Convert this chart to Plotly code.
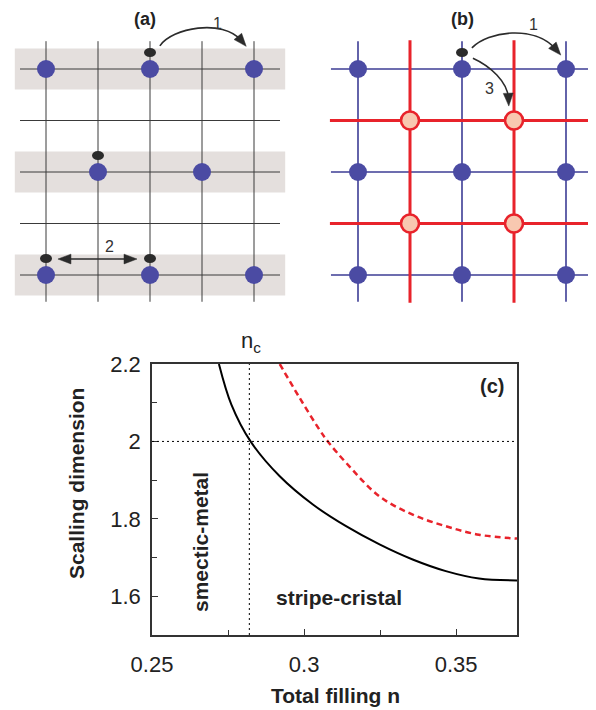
import plotly.graph_objects as go

# ---------------- data ----------------
# panel (c)
fill_black = [0.272, 0.2761, 0.2824, 0.292, 0.3029, 0.3138, 0.3248, 0.3357, 0.3466, 0.3575, 0.37]
scal_black = [2.2, 2.095, 2.0, 1.91, 1.837, 1.781, 1.734, 1.695, 1.665, 1.646, 1.641]
fill_red = [0.292, 0.2985, 0.305, 0.3078, 0.3138, 0.3248, 0.3357, 0.3466, 0.3575, 0.37]
scal_red = [2.2, 2.113, 2.031, 2.0, 1.945, 1.858, 1.811, 1.781, 1.759, 1.749]
n_c = 0.282
y_ref = 2.0
x_ticks = [0.25, 0.3, 0.35]
x_tick_labels = ["0.25", "0.3", "0.35"]
x_minor = [0.275, 0.325]
y_ticks = [1.6, 1.8, 2.0, 2.2]
y_tick_labels = ["1.6", "1.8", "2", "2.2"]
y_minor = [1.7, 1.9, 2.1]

# panel (a): lattice indices (column, row)
a_grid = [0, 1, 2, 3, 4]
a_stripe_rows = [0, 2, 4]
a_site_cols = [0, 2, 4, 1, 3, 0, 2, 4]
a_site_rows = [0, 0, 0, 2, 2, 4, 4, 4]
a_elec_cols = [2, 1, 0, 2]
a_elec_rows = [0, 2, 4, 4]

# panel (b)
b_blue = [0, 2, 4]
b_red = [1, 3]
b_elec_cols = [2]
b_elec_rows = [0]

# ---------------- styles / geometry ----------------
FONT = "Liberation Sans"
BLUE = "#4b4ba3"
BLUE_LINE = "#3d3d95"
RED = "#e8232b"
PEACH = "#f8c8b0"
DARK = "#2b2b2b"
GRID = "#3a3a3a"
BAND = "#e4dfdd"
EXT = 0.5

OFF = 8                      # page body margin
W, H = 596 - OFF, 710 - OFF
def px(x): return (x - OFF) / W
def py(y): return 1 - (y - OFF) / H

# lattice pixel mapping (page pixels): col -> X0 + SX*col, row -> Y0 + SY*row
A_X0, B_X0, SX = 46, 358, 52
Y0, SY = 69, 51.5

fig = go.Figure()
shapes = []
ann = []

def lines_trace(xs, ys, color, width, xa, ya):
    return go.Scatter(x=xs, y=ys, mode="lines", line=dict(color=color, width=width),
                      xaxis=xa, yaxis=ya, hoverinfo="skip", showlegend=False)

# ---- panel (a) ----
for r in a_stripe_rows:
    shapes.append(dict(type="rect", xref="x2", yref="y2", x0=-0.6, x1=4.6, y0=r - 0.4, y1=r + 0.4,
                       fillcolor=BAND, line=dict(width=0), layer="below"))
hx, hy = [], []
for r in a_grid:
    hx += [a_grid[0] - EXT, a_grid[-1] + EXT, None]
    hy += [r, r, None]
vx, vy = [], []
for c in a_grid:
    vx += [c, c, None]
    vy += [a_grid[0] - 0.54, a_grid[-1] + 0.52, None]
fig.add_trace(lines_trace(hx, hy, GRID, 1, "x2", "y2"))
fig.add_trace(lines_trace(vx, vy, GRID, 1, "x2", "y2"))
fig.add_trace(go.Scatter(x=a_site_cols, y=a_site_rows, mode="markers",
                         marker=dict(size=18, color=BLUE, line=dict(width=0)),
                         xaxis="x2", yaxis="y2", hoverinfo="skip", showlegend=False))

# ---- panel (b) ----
bx, by = [], []
for r in b_blue:
    bx += [-0.52, 4.5, None]; by += [r, r, None]
for c in b_blue:
    bx += [c, c, None]; by += [-0.54, 4.52, None]
rx, ry = [], []
for r in b_red:
    rx += [-0.54, 4.52, None]; ry += [r, r, None]
for c in b_red:
    rx += [c, c, None]; ry += [-0.56, 4.54, None]
fig.add_trace(lines_trace(bx, by, BLUE_LINE, 1.6, "x3", "y3"))
fig.add_trace(lines_trace(rx, ry, RED, 3, "x3", "y3"))
bsx = [c for r in b_blue for c in b_blue]
bsy = [r for r in b_blue for c in b_blue]
fig.add_trace(go.Scatter(x=bsx, y=bsy, mode="markers",
                         marker=dict(size=18, color=BLUE, line=dict(width=0)),
                         xaxis="x3", yaxis="y3", hoverinfo="skip", showlegend=False))
rsx = [c for r in b_red for c in b_red]
rsy = [r for r in b_red for c in b_red]
fig.add_trace(go.Scatter(x=rsx, y=rsy, mode="markers",
                         marker=dict(size=18, color=PEACH, line=dict(width=2.6, color=RED)),
                         xaxis="x3", yaxis="y3", hoverinfo="skip", showlegend=False))

# electrons (small ellipses just above the sites)
def electron(c, r, xr, yr):
    return dict(type="circle", xref=xr, yref=yr, x0=c - 0.115, x1=c + 0.115,
                y0=r - 0.32 - 0.088, y1=r - 0.32 + 0.088, fillcolor=DARK, line=dict(width=0))
for c, r in zip(a_elec_cols, a_elec_rows):
    shapes.append(electron(c, r, "x2", "y2"))
for c, r in zip(b_elec_cols, b_elec_rows):
    shapes.append(electron(c, r, "x3", "y3"))

# arrows: bezier bodies + filled triangular heads (lattice units)
def curve(p, xr, yr):
    return dict(type="path", xref=xr, yref=yr,
                path=f"M {p[0][0]},{p[0][1]} C {p[1][0]},{p[1][1]} {p[2][0]},{p[2][1]} {p[3][0]},{p[3][1]}",
                line=dict(color=DARK, width=1.6))

def head(tip, frm, xr, yr, length=0.25, half=0.095):
    dx, dy = tip[0] - frm[0], tip[1] - frm[1]
    n = (dx * dx + dy * dy) ** 0.5
    ux, uy = dx / n, dy / n
    bx_, by_ = tip[0] - ux * length, tip[1] - uy * length
    p1 = (bx_ - uy * half, by_ + ux * half)
    p2 = (bx_ + uy * half, by_ - ux * half)
    return dict(type="path", xref=xr, yref=yr,
                path=f"M {tip[0]},{tip[1]} L {p1[0]},{p1[1]} L {p2[0]},{p2[1]} Z",
                fillcolor=DARK, line=dict(color=DARK, width=0.5))

def arrow(p, xr, yr):
    body = list(p)
    ux, uy = p[3][0] - p[2][0], p[3][1] - p[2][1]
    n = (ux * ux + uy * uy) ** 0.5
    body[3] = (p[3][0] - ux / n * 0.15, p[3][1] - uy / n * 0.15)
    shapes.append(curve(body, xr, yr))
    shapes.append(head(p[3], p[2], xr, yr))

arc_a1 = [(2.19, -0.45), (2.42, -0.80), (3.40, -0.98), (3.85, -0.44)]
arc_b1 = [(2.19, -0.41), (2.50, -0.74), (3.40, -0.86), (3.90, -0.27)]
arc_b3 = [(2.21, -0.21), (2.54, -0.06), (2.88, 0.25), (2.90, 0.72)]
arrow(arc_a1, "x2", "y2")
arrow(arc_b1, "x3", "y3")
arrow(arc_b3, "x3", "y3")

# double arrow (2)
d_left, d_right, d_row = (0.23, 3.69), (1.75, 3.69), 3.69
shapes.append(dict(type="line", xref="x2", yref="y2", x0=d_left[0] + 0.15, x1=d_right[0] - 0.15,
                   y0=d_row, y1=d_row, line=dict(color=DARK, width=1.6)))
shapes.append(head(d_right, d_left, "x2", "y2"))
shapes.append(head(d_left, d_right, "x2", "y2"))

# ---- panel (c) ----
fig.add_trace(go.Scatter(x=fill_black, y=scal_black, mode="lines",
                         line=dict(color="black", width=2, shape="spline", smoothing=1),
                         hoverinfo="skip", showlegend=False))
fig.add_trace(go.Scatter(x=fill_red, y=scal_red, mode="lines",
                         line=dict(color=RED, width=2.5, dash="6px,4px", shape="spline", smoothing=1),
                         hoverinfo="skip", showlegend=False))
shapes.append(dict(type="line", xref="x", yref="y", x0=n_c, x1=n_c, y0=1.5, y1=2.2,
                   line=dict(color="black", width=1, dash="2px,3px")))
shapes.append(dict(type="line", xref="x", yref="y", x0=0.25, x1=0.37, y0=y_ref, y1=y_ref,
                   line=dict(color="black", width=1, dash="2px,3px")))

def text(x, y, s, size, xref="paper", yref="paper", angle=0, color="#222", yanchor="middle"):
    ann.append(dict(x=x, y=y, xref=xref, yref=yref, text=s, showarrow=False, textangle=angle,
                    font=dict(family=FONT, size=size, color=color), xanchor="center", yanchor=yanchor,
                    borderpad=0))

text(1.23, 3.45, "2", 16, "x2", "y2", color="#333")
text(3.29, -0.89, "1", 16, "x2", "y2", color="#333")
text(3.38, -0.86, "1", 16, "x3", "y3", color="#333")
text(2.52, 0.37, "3", 16, "x3", "y3", color="#333")
text(px(145), py(8), "<b>(a)</b>", 18, yanchor="top")
text(px(462), py(8), "<b>(b)</b>", 18, yanchor="top")
text(px(492), py(386), "<b>(c)</b>", 20)
text(px(251), py(342), "n<sub>c</sub>", 22)
text(px(200), py(542), "<b>smectic-metal</b>", 21, angle=-90)
text(px(339), py(597), "<b>stripe-cristal</b>", 21)
text(px(335), py(695), "<b>Total filling n</b>", 21)
text(px(76), py(484), "<b>Scalling dimension</b>", 21, angle=-90)

axis_c = dict(showline=True, linecolor="#333", linewidth=1.5, mirror=True, showgrid=False,
              zeroline=False, ticks="inside", ticklen=6, tickwidth=1.2, tickcolor="#333",
              automargin=False, tickfont=dict(family=FONT, size=22, color="#222"))

hidden = dict(visible=False, showgrid=False, zeroline=False, automargin=False)

def xr_(x0px, a, b): return [(a - x0px) / SX, (b - x0px) / SX]

fig.update_layout(
    width=W, height=H, margin=dict(l=0, r=0, t=0, b=0, autoexpand=False),
    paper_bgcolor="white", plot_bgcolor="rgba(0,0,0,0)",
    xaxis=dict(domain=[px(152), px(517)], range=[0.25, 0.37], tickvals=x_ticks, ticktext=x_tick_labels,
               minor=dict(tickvals=x_minor, ticks="inside", ticklen=5, tickcolor="#333"),
               ticklabelstandoff=9, **axis_c),
    yaxis=dict(domain=[py(635), py(364)], range=[1.5, 2.2], tickvals=y_ticks, ticktext=y_tick_labels,
               minor=dict(tickvals=y_minor, ticks="inside", ticklen=5, tickcolor="#333"),
               ticklabelstandoff=5, **axis_c),
    xaxis2=dict(domain=[px(8), px(300)], range=xr_(A_X0, 8, 300), anchor="y2", **hidden),
    yaxis2=dict(domain=[py(310), py(8)], range=[(310 - Y0) / SY, (8 - Y0) / SY], anchor="x2", **hidden),
    xaxis3=dict(domain=[px(300), px(596)], range=xr_(B_X0, 300, 596), anchor="y3", **hidden),
    yaxis3=dict(domain=[py(310), py(8)], range=[(310 - Y0) / SY, (8 - Y0) / SY], anchor="x3", **hidden),
    shapes=shapes, annotations=ann,
)

fig.write_html("out.html")
